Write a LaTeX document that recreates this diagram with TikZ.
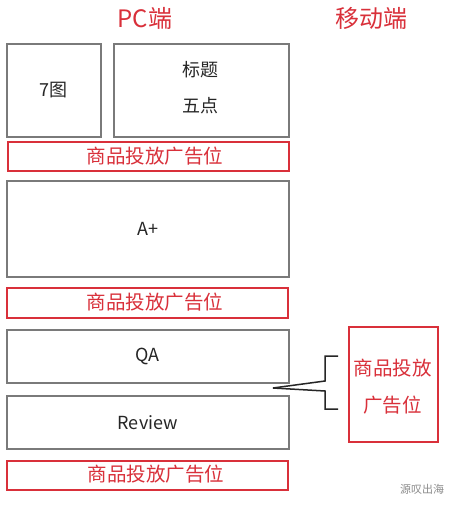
\documentclass[tikz,border=0pt]{standalone}
\usepackage{fontspec}
\setmainfont{Noto Sans CJK SC}
\begin{document}
\begin{tikzpicture}[x=1pt,y=-1pt,
  graybox/.style={draw=boxgray,line width=1.6pt,inner sep=0pt,anchor=north west,font=\fontsize{18}{20}\selectfont,text=black!85},
  adbox/.style={draw=adred,line width=1.6pt,inner sep=0pt,anchor=north west},
  adtext/.style={text=adred,font=\fontsize{19.5}{21}\selectfont,inner sep=0pt},
  title/.style={text=adred,font=\fontsize{24}{26}\selectfont,inner sep=0pt},
  brace/.style={draw=black!85,line width=1.5pt}]
\definecolor{adred}{HTML}{D9303A}
\definecolor{boxgray}{HTML}{7A7A7A}
\useasboundingbox (0,0) rectangle (459,508);
\fill[white] (0,0) rectangle (459,508);
\node[title] (pc) at (145,18) {PC端};
\node[title] (mob) at (371,18) {移动端};
\node[graybox,minimum width=94pt,minimum height=93pt] (img) at (6,43) {7图};
\node[graybox,minimum width=175pt,minimum height=93pt] (tt) at (113,43) {};
\node[font=\fontsize{18}{20}\selectfont,text=black!85] (tt1) at (200.5,70) {标题};
\node[font=\fontsize{18}{20}\selectfont,text=black!85] (tt2) at (200.5,106) {五点};
\node[adbox,minimum width=281pt,minimum height=29pt] (ad1) at (7,141) {};
\node[adtext] (ad1t) at (155,156) {商品投放广告位};
\node[graybox,minimum width=282pt,minimum height=96pt] (ap) at (6,180) {A+};
\node[adbox,minimum width=281pt,minimum height=30pt] (ad2) at (6,287) {};
\node[adtext] (ad2t) at (155,302) {商品投放广告位};
\node[graybox,minimum width=282pt,minimum height=53pt] (qa) at (6,329) {QA};
\node[graybox,minimum width=282pt,minimum height=53pt] (rv) at (6,395) {Review};
\node[adbox,minimum width=281pt,minimum height=29pt] (ad3) at (6,460) {};
\node[adtext] (ad3t) at (156,474.5) {商品投放广告位};
\node[adbox,minimum width=89pt,minimum height=115pt] (mad) at (348,326) {};
\node[adtext] (mad1) at (392.5,368) {商品投放};
\node[adtext] (mad2) at (392.5,405) {广告位};
\coordinate (tip) at (273,388);
\coordinate (ut) at (338,356);
\coordinate (lt) at (338,409);
\draw[brace] (tip) -- (325,381) -- (325,356) -- (ut);
\draw[brace] (tip) -- (325,391) -- (325,409) -- (lt);
\node[text=black!45,font=\fontsize{11}{12}\selectfont,inner sep=0pt] (wm) at (422,489) {源叹出海};
\end{tikzpicture}
\end{document}
